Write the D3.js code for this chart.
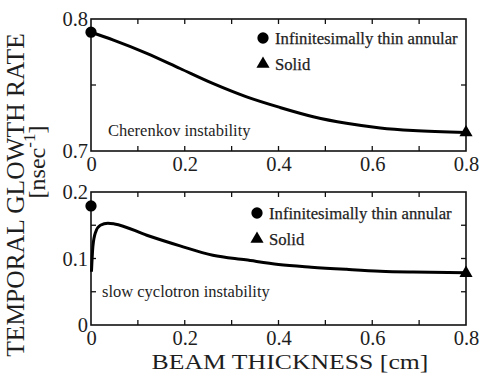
<!DOCTYPE html>
<html><head><meta charset="utf-8">
<script src="https://cdn.jsdelivr.net/npm/d3@7"></script>
<style>
body{margin:0;background:#fff}
svg{display:block}
</style>
</head><body>
<svg id="c" width="481" height="381"></svg>
<script>
// ---- data ----
const thicknessTop = [0, 0.048, 0.119, 0.19, 0.261, 0.332, 0.403, 0.474, 0.545, 0.617, 0.687, 0.8];
const rateTop      = [0.790, 0.784, 0.774, 0.7625, 0.751, 0.741, 0.733, 0.726, 0.721, 0.7175, 0.7155, 0.714];
const thicknessBottom = [0.001, 0.004, 0.01, 0.02, 0.036, 0.05, 0.119, 0.19, 0.26, 0.33, 0.40, 0.47, 0.545, 0.617, 0.687, 0.8];
const rateBottom      = [0.080, 0.118, 0.140, 0.150, 0.153, 0.152, 0.135, 0.119, 0.105, 0.098, 0.091, 0.087, 0.0837, 0.081, 0.0797, 0.0787];
const annularTop = [0, 0.790];
const solidTop = [0.8, 0.714];
const annularBottom = [0, 0.179];
const solidBottom = [0.8, 0.078];
const xTickLabels = [0, 0.2, 0.4, 0.6, 0.8];
const xMinorTicks = [0.1, 0.2, 0.3, 0.4, 0.5, 0.6, 0.7];
const yTopLabels = [0.7, 0.8];
const yTopMinor = [0.75];
const yBottomLabels = [0, 0.1, 0.2];
const yBottomMinor = [0.05, 0.1, 0.15];
const legendLabels = ["Infinitesimally thin annular", "Solid"];
const panelNames = ["Cherenkov instability", "slow cyclotron instability"];

const SERIF = '"Liberation Serif", "Times New Roman", Times, serif';
const TXT = "#1e1e1e";
const svg = d3.select("#c");
const x = d3.scaleLinear().domain([0, 0.8]).range([91, 466]);

const panels = [
  {y: d3.scaleLinear().domain([0.7, 0.8]).range([151, 19]), xs: thicknessTop, ys: rateTop,
   ann: annularTop, sol: solidTop, labels: yTopLabels, minor: yTopMinor,
   fmt: d3.format(".1f"), name: panelNames[0], nameX: 108, nameY: 136, legX: 263, legY: 38},
  {y: d3.scaleLinear().domain([0, 0.2]).range([325, 192]), xs: thicknessBottom, ys: rateBottom,
   ann: annularBottom, sol: solidBottom, labels: yBottomLabels, minor: yBottomMinor,
   fmt: d => d === 0 ? "0" : d3.format(".1f")(d), name: panelNames[1], nameX: 102, nameY: 297, legX: 257, legY: 213}
];

const circ = d3.symbol(d3.symbolCircle, 100);
const tri = d3.symbol(d3.symbolTriangle, 75);

function styleText(sel, size) {
  return sel.style("font-family", SERIF).style("font-size", size + "px").style("fill", TXT);
}

panels.forEach((p, i) => {
  const g = svg.append("g");
  const [y0, y1] = p.y.range();
  const x0 = x.range()[0], x1 = x.range()[1];
  const tk = 5;
  // inward ticks on all four sides
  const tg = g.append("g").attr("stroke", "#111").attr("stroke-width", 1.3);
  xMinorTicks.forEach(t => {
    tg.append("line").attr("x1", x(t)).attr("x2", x(t)).attr("y1", y0).attr("y2", y0 - tk);
    tg.append("line").attr("x1", x(t)).attr("x2", x(t)).attr("y1", y1).attr("y2", y1 + tk);
  });
  p.minor.forEach(t => {
    tg.append("line").attr("x1", x0).attr("x2", x0 + tk).attr("y1", p.y(t)).attr("y2", p.y(t));
    tg.append("line").attr("x1", x1).attr("x2", x1 - tk).attr("y1", p.y(t)).attr("y2", p.y(t));
  });
  // frame
  g.append("rect").attr("x", x0).attr("y", y1).attr("width", x1 - x0).attr("height", y0 - y1)
    .attr("fill", "none").attr("stroke", "#111").attr("stroke-width", 1.6);

  // tick labels
  const ax = g.append("g").attr("transform", `translate(0,${y0})`)
    .call(d3.axisBottom(x).tickValues(xTickLabels).tickSize(0).tickPadding(5)
      .tickFormat(d => d === 0 ? "0" : d3.format(".1f")(d)));
  ax.select(".domain").remove();
  ax.attr("font-family", null).attr("font-size", null);
  styleText(ax.selectAll("text"), 20.5);

  const ay = g.append("g").attr("transform", `translate(${x0},0)`)
    .call(d3.axisLeft(p.y).tickValues(p.labels).tickSize(0).tickPadding(3).tickFormat(p.fmt));
  ay.select(".domain").remove();
  ay.attr("font-family", null).attr("font-size", null);
  styleText(ay.selectAll("text"), 20.5);

  // curve
  const line = d3.line().x(d => x(d[0])).y(d => p.y(d[1])).curve(d3.curveMonotoneX);
  g.append("path").datum(p.xs.map((v, k) => [v, p.ys[k]]))
    .attr("d", line).attr("fill", "none").attr("stroke", "#000").attr("stroke-width", 3);

  // markers
  g.append("path").attr("d", circ).attr("transform", `translate(${x(p.ann[0])},${p.y(p.ann[1])})`).attr("fill", "#000");
  g.append("path").attr("d", tri).attr("transform", `translate(${x(p.sol[0])},${p.y(p.sol[1])})`).attr("fill", "#000");

  // legend
  g.append("path").attr("d", circ).attr("transform", `translate(${p.legX},${p.legY})`).attr("fill", "#000");
  styleText(g.append("text").attr("x", p.legX + 12).attr("y", p.legY + 6).text(legendLabels[0]), 16.7)
    .style("stroke", TXT).style("stroke-width", 0.25);
  g.append("path").attr("d", tri).attr("transform", `translate(${p.legX},${p.legY + 26})`).attr("fill", "#000");
  styleText(g.append("text").attr("x", p.legX + 12).attr("y", p.legY + 32).text(legendLabels[1]), 16.7)
    .style("stroke", TXT).style("stroke-width", 0.25);

  // panel name
  styleText(g.append("text").attr("x", p.nameX).attr("y", p.nameY).text(p.name), 16.5);
});

// axis titles
styleText(svg.append("text").attr("transform", "translate(290,368.5) scale(1.17,1)").attr("text-anchor", "middle")
  .text("BEAM THICKNESS [cm]"), 22);
styleText(svg.append("text").attr("transform", "translate(24,195) rotate(-90)").attr("text-anchor", "middle")
  .text("TEMPORAL GLOWTH RATE"), 25.5);
const t2 = styleText(svg.append("text").attr("transform", "translate(45,162) rotate(-90)").attr("text-anchor", "middle"), 24);
t2.append("tspan").text("[nsec");
t2.append("tspan").style("font-size", "17px").attr("dy", -10).text("-1");
t2.append("tspan").attr("dy", 10).text("]");
</script>
</body></html>
